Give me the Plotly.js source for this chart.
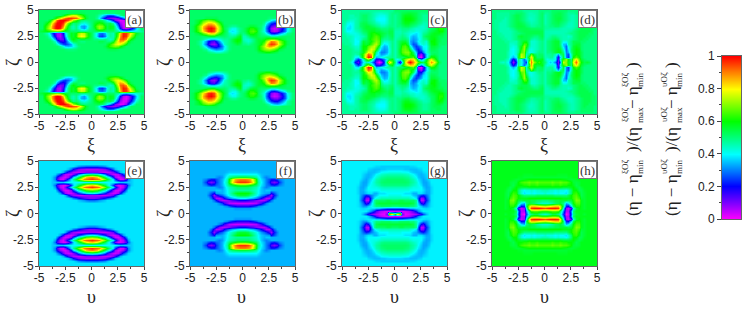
<!DOCTYPE html>
<html><head><meta charset="utf-8">
<script src="https://cdn.plot.ly/plotly-3.0.1.min.js"></script>
<style>html,body{margin:0;padding:0;background:#fff}</style></head>
<body><div id="chart" style="width:747px;height:310px"></div>
<script>
const xGrid=[0,.25,.5,.75,1,1.25,1.5,1.75,2,2.25,2.5,2.75,3,3.25,3.5,3.75,4,4.25,4.5,4.75,5];
const zetaGrid=[5,4.75,4.5,4.25,4,3.75,3.5,3.25,3,2.75,2.5,2.25,2,1.75,1.5,1.25,1,.75,.5,.25,0];
const colorStops=[[0,'#ff00ff'],[.2,'#0000ff'],[.4,'#00ffff'],[.6,'#00ff00'],[.8,'#ffff00'],[1,'#ff0000']];
const tickVals=[-5,-2.5,0,2.5,5];
const tickText=['-5','-2.5','0','2.5','5'];
const minorVals=[-3.75,-1.25,1.25,3.75];
const barTicks=[0,.2,.4,.6,.8,1];
const barTickText=['0','0.2','0.4','0.6','0.8','1'];
const barMinor=[.1,.3,.5,.7,.9];
const barLevels=[0,.1,.2,.3,.4,.5,.6,.7,.8,.9,1];
const panelNames=['(a)','(b)','(c)','(d)','(e)','(f)','(g)','(h)'];
const xTitles=['ξ','ξ','ξ','ξ','υ','υ','υ','υ'];
// one quadrant per panel (percent): rows zeta 5 -> 0, columns 0 -> 5; a short row keeps its last value
const panelA=[[52],[52,52,52,51,50,50,50,50,50,51,52],
[52,52,50,46,40,34,28,26,28,34,42,48,52],
[52,52,48,40,28,18,12,10,8,8,12,18,28,38,46,52],
[52,53,54,54,52,46,40,32,20,10,5,2,3,10,22,36,46,52],
[52,56,60,62,60,54,52,54,48,36,20,8,3,3,10,22,34,44,50,52],
[52,58,68,72,70,60,54,58,56,46,30,14,4,2,6,16,28,38,46,52],
[52,56,66,72,68,60,54,58,56,48,36,20,6,3,6,16,26,36,46,52],
[52,52,54,54,54,52,52,52,52,50,48,44,38,36,38,40,42,44,46,48,50],
[52,46,38,30,28,34,44,48,46,54,66,84,97,96,90,78,68,58,54,52],
[52,46,36,26,24,30,42,48,46,54,70,88,98,96,86,72,62,54,52],
[52,50,50,48,48,50,48,44,48,60,78,92,94,88,72,60,54,52],
[52,52,52,54,54,52,50,50,56,68,82,88,86,74,60,54,52],
[52,52,52,52,52,52,56,62,70,76,80,78,70,60,54,52],
[52,52,52,52,52,54,58,64,68,70,68,62,56,52],
[52,52,52,52,52,52,53,54,54,54,53,52],[52],[52],[52],[52],[52]];
const panelB=[[52],[52],[52],[52,52,52,52,52,52,52,52,52,52,50,50,50,50,50,52],
[52,52,52,52,52,52,52,52,52,50,46,40,36,34,36,40,44,48,50,52],
[52,52,52,52,52,52,52,52,48,40,30,24,20,20,24,30,38,46,50,52],
[52,52,54,56,56,54,52,50,44,32,22,14,10,10,14,20,28,38,46,50,52],
[52,54,58,62,62,58,54,50,42,30,18,8,4,6,10,18,28,38,46,50,52],
[52,54,60,64,66,62,54,48,42,32,20,10,6,8,14,22,30,40,46,50,52],
[50,52,58,62,62,58,54,50,46,40,30,22,20,24,30,36,42,48,50,52],
[46,46,50,54,56,56,54,52,52,52,50,46,46,48,50,52],
[46,44,44,46,50,54,56,56,58,62,66,68,68,64,60,56,54,52],
[48,46,44,46,50,54,56,58,62,72,82,90,88,82,72,64,58,54,52],
[50,50,48,50,52,54,56,60,70,80,92,96,94,86,76,66,58,54,52],
[52,52,52,52,52,54,58,66,74,82,88,88,84,76,68,60,56,52],
[52,52,52,52,52,54,58,64,70,72,74,72,68,62,56,54,52],
[52,52,52,52,52,52,54,56,58,60,60,58,56,54,52],[52],[52],[52],[52]];
const panelC=[[52],
[50,50,52,54,55,56,56,55,54,52,50,50,50,50,52],
[48,50,52,55,58,58,58,56,54,52,50,48,48,50,52,52,54,54,52],
[48,50,52,56,60,60,60,58,55,52,50,48,48,50,52,54,54,54,52],
[48,50,52,56,60,60,60,58,54,52,50,48,48,50,52,54,56,56,54,52],
[48,50,52,55,58,58,56,54,52,50,48,46,46,48,52,54,58,60,58,54,52],
[48,50,50,52,54,54,52,50,48,46,44,44,46,48,52,54,58,62,60,56,52],
[48,48,48,50,50,50,48,46,44,44,44,44,46,50,52,54,58,62,62,56,52],
[46,46,46,48,48,46,44,44,42,42,44,46,48,52,54,56,58,60,60,56,52],
[46,46,46,48,46,44,42,40,38,40,44,48,50,54,56,58,58,58,56,54,52],
[46,46,48,50,48,44,38,34,36,40,44,50,54,56,58,58,56,54,54,52],
[46,48,50,52,52,48,36,32,34,38,44,48,50,56,58,60,56,54,52],
[46,50,54,56,56,50,34,30,34,40,44,46,44,54,60,60,56,54,52],
[46,50,56,60,62,54,36,26,28,36,42,44,42,52,58,60,56,52,52,52,50],
[46,50,56,64,66,60,44,30,24,28,34,40,40,50,56,56,54,52,50],
[46,50,58,66,68,64,54,38,26,22,30,38,40,50,54,54,52,50],
[46,50,58,66,70,70,64,52,36,22,20,30,42,48,52,52,52,50],
[46,50,56,62,66,68,62,56,40,14,8,18,36,46,52,54,52,50],
[46,50,52,52,56,60,62,66,50,4,2,14,36,52,62,60,54,50],
[44,40,46,58,70,78,84,82,66,46,28,38,56,72,76,66,56,50],
[50,34,14,40,76,94,100,90,78,66,58,54,62,76,88,80,64,54,50]];
const panelD=[[50,50,50,52,52,52,52,52,52,50],
[48,48,50,52,53,54,54,52,50,48,48,48,50,50,52,52,52,52,52,50],
[46,48,50,52,54,54,54,52,50,48,46,46,48,50,52,52,52,52,52,50],
[46,48,50,52,54,55,55,52,50,48,46,46,48,50,52,54,52,52,52,50],
[46,48,50,52,54,55,54,52,50,48,46,46,48,50,52,54,54,52,52,52,50],
[46,48,50,52,53,54,52,50,48,46,45,46,48,50,52,54,54,54,52,52,50],
[48,48,50,50,52,52,50,48,46,45,45,46,48,50,52,54,54,54,52,52,50],
[48,48,48,48,48,48,47,46,46,46,46,47,50,52,54,54,54,54,52,52,50],
[46,46,46,46,46,46,46,46,46,47,48,50,52,54,54,54,54,54,52,50],
[46,46,46,46,46,46,46,46,47,48,50,50,52,54,54,54,54,52,52,50],
[46,46,48,50,50,48,47,46,46,44,46,50,52,54,54,54,52,52,50],
[46,48,50,52,54,52,48,46,46,46,48,50,52,54,54,52,52,50],
[46,50,52,54,56,56,50,42,42,46,50,54,54,54,52,52,50],
[46,50,52,54,56,56,50,36,34,46,50,54,56,56,52,50],
[46,50,52,54,56,56,52,38,28,42,50,56,58,56,52,50],
[46,50,52,54,56,58,56,44,28,38,52,56,60,58,52,50],
[46,50,50,52,56,58,58,50,30,34,50,56,60,58,54,50],
[46,48,48,50,46,34,50,54,30,26,46,56,60,58,54,50],
[46,46,48,48,40,18,36,56,30,24,44,60,66,60,54,50],
[46,42,44,44,42,14,44,62,72,60,50,70,82,66,56,52,50],
[50,44,36,40,30,10,30,76,70,58,52,78,92,72,60,54,56,54,50]];
const panelE=[[38],[38],
[28,28,28,29,30,32,35,38],
[6,6,6,7,8,10,14,20,28,35,38],
[10,10,10,8,6,5,5,6,10,16,26,34,38],
[50,48,46,42,36,28,18,10,5,4,6,12,24,32,37,38],
[90,88,84,76,64,54,46,36,22,8,3,4,8,18,30,36,38],
[96,94,92,90,78,68,58,48,38,24,10,3,4,14,30,36,38],
[40,40,40,40,40,40,40,40,40,40,38,36,36,36,36,36,38],
[84,82,78,72,62,54,46,36,24,10,3,3,6,14,28,36,38],
[96,94,92,90,78,68,58,48,38,24,10,3,6,18,32,38],
[68,66,64,58,50,44,36,24,10,4,3,6,16,30,38],
[42,40,38,34,28,22,14,7,4,4,8,18,32,38],
[8,8,7,6,5,5,6,8,12,22,34,38],
[10,10,12,14,18,22,26,30,35,38],
[28,28,30,32,34,36,38],[38],[38],[38],[38],[38]];
const panelF=[[34],[34],[34],[34],
[36,36,36,36,36,36,35,34],
[40,40,40,40,40,40,38,35,34],
[56,56,55,54,52,48,42,36,32,30,32,34],
[90,90,88,86,76,60,46,38,34,30,26,22,22,26,30,32,34],
[96,96,94,90,80,62,48,40,34,30,24,14,10,14,24,30,34],
[64,64,62,60,56,52,46,38,34,30,28,24,22,26,30,32,34],
[52,52,52,50,48,46,42,36,32,30,32,34],
[48,48,48,48,46,44,40,36,34,36,36,34],
[60,60,59,56,50,44,40,36,34,33,32,20,26,32,34],
[56,56,54,50,46,42,38,32,28,24,16,8,22,30,34],
[40,40,38,36,34,30,26,20,12,6,6,16,28,34],
[20,20,18,16,14,10,8,6,6,10,20,28,34],
[4,4,4,4,5,6,10,16,24,30,34],
[18,18,18,20,22,26,30,32,34],
[32,32,32,32,34],[34],[34]];
const panelG=[[39],[39],
[36,36,36,36,36,36,37,37,38,39],
[37,37,37,37,36,36,35,35,35,36,37,39],
[42,42,42,41,41,40,38,36,35,35,35,37,38,39],
[46,46,46,46,45,44,42,40,37,35,34,35,37,39],
[50,50,50,50,49,48,46,43,40,36,34,34,36,39],
[52,52,52,52,51,50,48,46,42,38,35,33,35,38,39],
[52,52,52,52,52,51,49,47,44,40,36,33,33,36,39],
[50,50,50,50,50,49,47,45,43,41,38,34,33,35,38,39],
[46,46,46,46,46,45,44,42,42,41,40,36,33,34,37,39],
[42,42,42,42,42,42,40,40,40,40,40,38,34,34,37,39],
[40,40,40,40,38,38,38,34,34,38,38,36,33,34,37,39],
[42,42,42,40,40,40,40,36,34,30,24,22,28,34,38,39],
[46,46,46,46,46,46,44,42,38,26,8,10,24,33,38,39],
[52,52,54,54,52,52,52,52,48,28,5,6,22,32,38,39],
[56,56,56,56,56,56,56,54,48,36,20,16,28,35,38,39],
[50,50,52,52,52,52,50,50,46,40,36,32,32,36,38,39],
[30,30,30,30,32,34,36,36,38,38,39,38,37,38,39],
[4,3,3,3,4,6,8,14,22,30,36,39],
[60,78,92,12,2,3,4,6,8,12,18,26,34,39]];
const panelH=[[58],[58],[58],[58],[58],
[58,58,58,58,58,57,57,57,57,58],
[56,56,56,56,56,56,56,56,56,57,57,58],
[60,60,60,60,60,60,60,59,58,57,56,56,57,58],
[66,66,66,68,66,66,68,66,66,64,60,56,55,56,58],
[62,62,62,64,62,62,64,62,62,60,60,58,54,56,58],
[58,58,58,58,58,58,58,56,56,56,58,60,56,54,56,58],
[46,46,44,44,42,44,42,42,40,44,52,60,60,54,54,57,58],
[44,42,42,42,40,42,40,40,38,44,52,62,64,58,54,56,58],
[52,52,52,52,50,50,50,50,50,54,60,64,66,60,54,56,58],
[60,60,60,60,60,60,60,58,58,58,60,64,68,64,56,56,58],
[50,50,52,52,54,54,56,56,56,54,56,62,70,68,58,56,58],
[44,44,46,48,52,54,56,50,34,38,50,60,66,66,58,56,58],
[76,78,80,82,84,84,74,52,22,20,36,54,62,62,58,56,58],
[94,96,98,98,98,96,78,42,8,4,14,42,56,60,58,56,58],
[62,62,64,66,66,64,52,30,6,6,30,52,58],
[44,46,50,54,54,50,44,24,0,4,26,50,56,58,58,56,58]];
const panels=[panelA,panelB,panelC,panelD,panelE,panelF,panelG,panelH];
// left half mirrors the right half; panels (a)-(d) flip sign about this level, (e)-(h) repeat it
const flipLevel=[52,52,50,50,null,null,null,null];

const W=747,H=310;
const colLeft=[39,190,342,492],panelW=105;
const rowTop=[10,161],panelH_px=[104,105];
const fx=v=>v/W, fy=v=>1-v/H;

function fullPanel(q,flip){
  const rows=[];
  for(const r of q){
    const row=xGrid.map((_,i)=>(i<r.length?r[i]:r[r.length-1]));
    const left=row.slice(1).reverse().map(v=>flip===null?v:2*flip-v);
    rows.push(left.concat(row).map(v=>v/100));
  }
  const lower=rows.slice(0,-1).reverse();
  return rows.concat(lower).reverse();   // ascending zeta
}
const fullX=xGrid.slice(1).reverse().map(v=>-v).concat(xGrid);
const fullY=zetaGrid.slice(0,-1).map(v=>-v).concat(zetaGrid.slice().reverse());

const traces=[],layout={width:W,height:H,margin:{l:0,r:0,t:0,b:0},paper_bgcolor:'#fff',plot_bgcolor:'#fff',showlegend:false,annotations:[],shapes:[]};
const axisStyle={showline:true,mirror:true,linecolor:'#666',linewidth:1,ticks:'outside',ticklen:3,tickcolor:'#444',showgrid:false,zeroline:false,
  tickmode:'array',tickvals:tickVals,ticktext:tickText,range:[-5,5],tickfont:{family:'Liberation Sans',size:12,color:'#222'},
  minor:{tickmode:'array',tickvals:minorVals,ticks:'outside',ticklen:2,tickcolor:'#444',showgrid:false}};
const note=(o)=>layout.annotations.push(Object.assign({xref:'paper',yref:'paper',showarrow:false,xanchor:'center',yanchor:'middle'},o));

panels.forEach((q,i)=>{
  const c=i%4,r=i<4?0:1,n=i+1;
  const l=colLeft[c],t=rowTop[r],h=panelH_px[r];
  traces.push({type:'heatmap',x:fullX,y:fullY,z:fullPanel(q,flipLevel[i]),zmin:0,zmax:1,zsmooth:'best',colorscale:colorStops,showscale:false,xaxis:'x'+n,yaxis:'y'+n,hoverinfo:'skip'});
  layout['xaxis'+(n===1?'':n)]=Object.assign({},axisStyle,{domain:[fx(l),fx(l+panelW)],anchor:'y'+n,ticklabelstandoff:-2});
  layout['yaxis'+(n===1?'':n)]=Object.assign({},axisStyle,{domain:[fy(t+h),fy(t)],anchor:'x'+n,ticklabelstandoff:-1});
  note({x:fx(l+panelW),y:fy(t),xanchor:'right',yanchor:'top',text:panelNames[i],width:17,height:16,bgcolor:'#fff',bordercolor:'#777',borderwidth:1,borderpad:0,font:{family:'Liberation Serif',size:13,color:'#333'}});
  note({x:fx(l+52),y:fy(t+h+31),text:xTitles[i],font:{family:'Liberation Serif',size:18,color:'#222'}});
  note({x:fx(l-26),y:fy(t+52),text:'ζ',textangle:-90,font:{family:'Liberation Serif',size:18,color:'#222'}});
});

// colour scale bar
traces.push({type:'heatmap',x:[0,1],y:barLevels,z:barLevels.map(v=>[v,v]),zmin:0,zmax:1,zsmooth:'best',colorscale:colorStops,showscale:false,xaxis:'x9',yaxis:'y9',hoverinfo:'skip'});
layout.xaxis9={domain:[fx(722),fx(741)],anchor:'y9',range:[0,1],showticklabels:false,ticks:'',showgrid:false,zeroline:false,showline:true,mirror:true,linecolor:'#666',linewidth:1};
layout.yaxis9={domain:[fy(219),fy(56)],anchor:'x9',range:[0,1],tickmode:'array',tickvals:barTicks,ticktext:barTickText,ticks:'outside',ticklen:4,tickcolor:'#444',showgrid:false,zeroline:false,showline:true,mirror:true,linecolor:'#666',linewidth:1,
  tickfont:{family:'Liberation Sans',size:12,color:'#222'},minor:{tickmode:'array',tickvals:barMinor,ticks:'outside',ticklen:2,tickcolor:'#444',showgrid:false}};

// rotated formulas
[[632,'ξOζ'],[671,'υOζ']].forEach(([x,plane])=>{
  const main=(text,y)=>note({x:fx(x),y:fy(y),text,textangle:-90,font:{family:'Liberation Serif',size:17,color:'#222'}});
  const small=(text,dx,y)=>note({x:fx(x+dx),y:fy(y),text,textangle:-90,font:{family:'Liberation Serif',size:9,color:'#222'}});
  main('(η − η',195); small(plane,-7,167); small('min',8,167);
  main(')/(η',140); small(plane,-7,115); small('max',8,115);
  main('− η',98); small(plane,-7,80); small('min',8,80);
  main(')',65);
});
Plotly.newPlot('chart',traces,layout,{staticPlot:true,displayModeBar:false});
</script></body></html>
